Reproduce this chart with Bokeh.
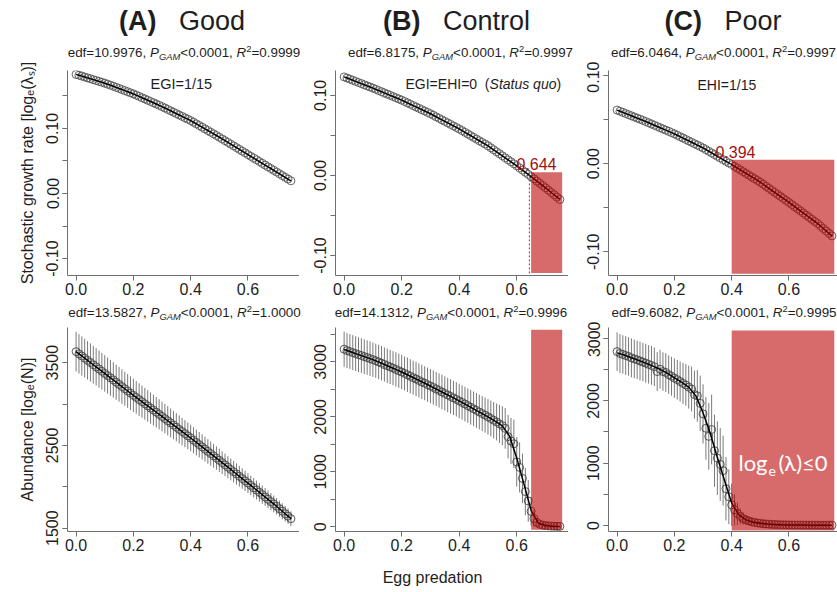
import numpy as np
from bokeh.plotting import figure
from bokeh.models import Label, FixedTicker, PrintfTickFormatter, Range1d
from bokeh.layouts import row, column
from bokeh.embed import file_html
from bokeh.resources import INLINE

# ---------------- data ----------------
egg = np.round(np.arange(0, 0.7551, 0.01), 2)        # 0.00 .. 0.75
egg_fit = np.round(np.arange(0, 0.7501, 0.025), 3)   # 0.000 .. 0.750

good_lambda = [0.1830, 0.1817, 0.1804, 0.1790, 0.1777, 0.1763, 0.1750, 0.1736, 0.1723, 0.1709,
               0.1695, 0.1680, 0.1664, 0.1648, 0.1631, 0.1614, 0.1598, 0.1581, 0.1564, 0.1547,
               0.1530, 0.1511, 0.1492, 0.1472, 0.1453, 0.1433, 0.1414, 0.1394, 0.1375, 0.1355,
               0.1335, 0.1314, 0.1292, 0.1271, 0.1249, 0.1228, 0.1206, 0.1185, 0.1163, 0.1142,
               0.1120, 0.1095, 0.1070, 0.1044, 0.1019, 0.0993, 0.0968, 0.0942, 0.0917, 0.0891,
               0.0865, 0.0838, 0.0812, 0.0785, 0.0758, 0.0732, 0.0705, 0.0678, 0.0651, 0.0625,
               0.0598, 0.0571, 0.0544, 0.0518, 0.0491, 0.0464, 0.0437, 0.0410, 0.0384, 0.0357,
               0.0330, 0.0303, 0.0276, 0.0249, 0.0222, 0.0195]

control_lambda = [0.1230, 0.1216, 0.1202, 0.1188, 0.1174, 0.1160, 0.1146, 0.1132, 0.1118, 0.1104,
                  0.1090, 0.1075, 0.1060, 0.1045, 0.1030, 0.1015, 0.1000, 0.0985, 0.0970, 0.0955,
                  0.0940, 0.0923, 0.0906, 0.0889, 0.0872, 0.0855, 0.0838, 0.0821, 0.0804, 0.0787,
                  0.0770, 0.0751, 0.0732, 0.0713, 0.0694, 0.0675, 0.0656, 0.0637, 0.0618, 0.0599,
                  0.0580, 0.0559, 0.0538, 0.0517, 0.0496, 0.0475, 0.0454, 0.0433, 0.0412, 0.0391,
                  0.0370, 0.0345, 0.0320, 0.0295, 0.0270, 0.0245, 0.0220, 0.0195, 0.0170, 0.0145,
                  0.0120, 0.0093, 0.0066, 0.0039, 0.0012, -0.0015, -0.0043, -0.0071, -0.0099, -0.0127,
                  -0.0155, -0.0184, -0.0213, -0.0242, -0.0271, -0.0300]

poor_lambda = [0.0610, 0.0597, 0.0584, 0.0571, 0.0558, 0.0545, 0.0532, 0.0519, 0.0506, 0.0493,
               0.0480, 0.0466, 0.0452, 0.0438, 0.0424, 0.0410, 0.0396, 0.0382, 0.0368, 0.0354,
               0.0340, 0.0324, 0.0308, 0.0292, 0.0276, 0.0260, 0.0244, 0.0228, 0.0212, 0.0196,
               0.0180, 0.0161, 0.0142, 0.0123, 0.0104, 0.0085, 0.0066, 0.0047, 0.0028, 0.0009,
               -0.0010, -0.0030, -0.0050, -0.0070, -0.0090, -0.0110, -0.0130, -0.0150, -0.0170, -0.0190,
               -0.0210, -0.0233, -0.0256, -0.0279, -0.0302, -0.0325, -0.0348, -0.0371, -0.0394, -0.0417,
               -0.0440, -0.0464, -0.0488, -0.0512, -0.0536, -0.0560, -0.0584, -0.0608, -0.0632, -0.0656,
               -0.0680, -0.0708, -0.0736, -0.0764, -0.0792, -0.0820]

good_N = [3633, 3607, 3581, 3554, 3528, 3502, 3475, 3449, 3423, 3396,
          3370, 3344, 3317, 3291, 3264, 3238, 3211, 3185, 3158, 3132,
          3105, 3080, 3054, 3029, 3003, 2978, 2952, 2927, 2901, 2876,
          2850, 2824, 2798, 2772, 2746, 2720, 2694, 2668, 2642, 2616,
          2590, 2563, 2536, 2509, 2482, 2455, 2428, 2401, 2374, 2347,
          2320, 2292, 2265, 2237, 2210, 2182, 2155, 2127, 2100, 2072,
          2045, 2017, 1989, 1961, 1933, 1905, 1877, 1849, 1821, 1793,
          1765, 1735, 1705, 1675, 1645, 1615]
good_N_sd = [240, 238, 237, 234, 232, 231, 228, 226, 225, 222,
             220, 219, 216, 214, 212, 210, 209, 206, 204, 203,
             200, 198, 197, 194, 192, 190, 189, 186, 184, 182,
             180, 178, 177, 174, 172, 170, 169, 166, 164, 162,
             160, 158, 156, 154, 152, 150, 148, 146, 144, 142,
             140, 138, 136, 134, 132, 130, 128, 126, 124, 122,
             120, 118, 116, 114, 112, 110, 108, 106, 104, 102,
             100, 98, 96, 94, 92, 90]

control_N = [3230, 3205, 3188, 3168, 3150, 3131, 3115, 3095, 3078, 3058,
             3040, 3020, 2998, 2976, 2953, 2930, 2908, 2885, 2862, 2838,
             2815, 2790, 2764, 2738, 2712, 2688, 2662, 2636, 2611, 2585,
             2560, 2534, 2507, 2480, 2452, 2425, 2398, 2371, 2344, 2317,
             2290, 2262, 2233, 2204, 2175, 2146, 2117, 2088, 2059, 2030,
             2000, 1970, 1938, 1906, 1872, 1840, 1790, 1640, 1560, 1510,
             1180, 1080, 880, 640, 470, 280, 150, 80, 45, 30,
             21, 16, 12, 10, 8, 7]
control_N_sd = [320, 318, 316, 318, 315, 317, 314, 316, 313, 315,
                314, 312, 315, 313, 311, 314, 312, 310, 313, 311,
                312, 310, 313, 311, 309, 312, 310, 312, 309, 311,
                310, 312, 309, 311, 313, 310, 312, 314, 311, 313,
                314, 312, 315, 313, 316, 314, 317, 315, 318, 320,
                322, 325, 330, 336, 345, 355, 370, 395, 420, 440,
                450, 455, 450, 430, 380, 260, 150, 80, 50, 40,
                35, 30, 28, 25, 22, 20]
control_N_fit = [3225, 3178, 3131, 3086, 3040, 2987, 2930, 2873, 2815, 2751,
                 2688, 2624, 2560, 2493, 2425, 2358, 2290, 2219, 2146, 2073,
                 2000, 1922, 1835, 1650, 1250, 780, 300, 65, 22, 11, 7]

poor_N = [2790, 2760, 2745, 2728, 2712, 2690, 2672, 2658, 2640, 2622,
          2605, 2585, 2568, 2548, 2470, 2508, 2470, 2455, 2420, 2395,
          2365, 2340, 2310, 2280, 2255, 2220, 2190, 2100, 2080, 1960,
          1790, 1560, 1430, 1540, 1200, 1080, 980, 880, 590, 460,
          330, 250, 190, 145, 110, 90, 72, 58, 48, 40,
          34, 28, 24, 20, 17, 15, 13, 11, 10, 9,
          8, 7, 7, 6, 6, 6, 5, 5, 5, 5,
          4, 4, 4, 4, 4, 4]
poor_N_sd = [310, 312, 308, 311, 309, 312, 310, 308, 311, 309,
             310, 308, 311, 309, 312, 310, 308, 311, 309, 312,
             315, 318, 322, 328, 335, 345, 360, 385, 415, 445,
             475, 505, 535, 560, 580, 590, 585, 560, 510, 440,
             340, 250, 180, 130, 100, 80, 65, 55, 45, 40,
             35, 30, 27, 24, 21, 19, 17, 15, 14, 13,
             12, 11, 10, 10, 9, 9, 8, 8, 8, 7,
             7, 7, 6, 6, 6, 6]
poor_N_fit = [2770, 2735, 2692, 2650, 2605, 2558, 2505, 2445, 2370, 2300,
              2220, 2080, 1810, 1480, 1090, 720, 360, 170, 90, 52,
              34, 22, 15, 11, 8, 7, 6, 5, 5, 4, 4]

col_tags = ["(A)", "(B)", "(C)"]
col_names = ["Good", "Control", "Poor"]
edf_top = ["10.9976", "6.8175", "6.0464"]
r2_top = ["0.9999", "0.9997", "0.9997"]
edf_bot = ["13.5827", "14.1312", "9.6082"]
r2_bot = ["1.0000", "0.9996", "0.9995"]
thresholds = [None, 0.644, 0.394]
threshold_labels = [None, "0.644", "0.394"]
# shaded (log(lambda) <= 0) regions: [left, right, bottom, top]
shade_top = [None, [0.65, 0.758, -0.122, 0.004], [0.40, 0.758, -0.125, 0.0045]]
shade_bot = [None, [0.65, 0.758, -55, 3585], [0.40, 0.758, -80, 3130]]

# ---------------- geometry / style ----------------
FONT = "Liberation Sans"
AXC = "#6f6f6f"
TXC = "#1e1e1e"
DARKRED = "#a01010"
NB = "\u00a0"
PAGE_W = 837

col_left = [67, 335, 608]         # page x of each frame
col_w = [232, 233, 229]
col_bl = [67, 36, 40]
col_xr = [(-0.03, 0.78), (-0.03, 0.78), (-0.03, 0.7693)]
row_top = [70, 327]
row_h = [205, 204]
row_bt = [9, 6]
row_bb = [28, 26]
HEAD1 = (0, 61)      # page y span of the header strip above the top row
HEAD2 = (303, 321)   # page y span of the strip above the bottom row
FOOT = (557, 592)
title_cx = [181.5, 456, 722.5]
edf_top_cx = [183.5, 460, 723]
edf_bot_cx = [184, 450.5, 723.5]
y_ranges = [[(-0.126, 0.189), (-0.125, 0.131), (-0.127, 0.106)],
            [(1460, 3925), (-86, 3625), (-97, 3177)]]

REG = {'(': 333, ')': 333, '/': 278, 'E': 667, 'H': 722, 'I': 278, 'S': 667, 't': 278,
       'a': 556, 'u': 556, 's': 500, 'q': 556, 'o': 556, 'G': 778, 'C': 722, 'n': 556,
       'r': 333, 'l': 222, 'P': 667, 'A': 667, 'M': 833, 'R': 722, 'd': 556, 'e': 556,
       'f': 278, ' ': 278, NB: 278, '.': 278, ',': 278, '=': 584, '<': 584, 'B': 667}
BOLD = {'(': 333, ')': 333, 'A': 722, 'B': 722, 'C': 722, ' ': 278}


def text_w(s, size, bold=False):
    tab = BOLD if bold else REG
    return sum(tab.get(ch, 556) for ch in s) * size / 1000.0


class Panel:
    def __init__(self, r, c):
        self.left = col_left[c]
        self.top = row_top[r]
        self.w = col_w[c]
        self.h = row_h[r]
        self.xr = col_xr[c]
        self.yr = y_ranges[r][c]

    def x(self, px):
        return self.xr[0] + (px - self.left) / self.w * (self.xr[1] - self.xr[0])

    def y(self, py):
        return self.yr[1] - (py - self.top) / self.h * (self.yr[1] - self.yr[0])


class PixelPanel:
    """strip figure whose data coordinates are page pixels"""
    def x(self, px):
        return px

    def y(self, py):
        return py


PIX = PixelPanel()


def add_text(p, pn, px, py, text, size, style="normal", color=TXC, font=FONT, align="left"):
    # py is the wanted baseline; the label is anchored at the middle of its text box
    mid = py - 0.3465 * size
    p.add_layout(Label(x=pn.x(px), y=pn.y(mid), x_units="data", y_units="data", text=text,
                       text_font=font, text_font_size=f"{size}px", text_font_style=style,
                       text_color=color, text_align=align, text_baseline="middle"))


def add_runs(p, pn, runs, px, py, centered=True):
    total = sum(text_w(t, s, st == "bold") for t, s, st, dy in runs)
    x = px - total / 2 if centered else px
    for t, s, st, dy in runs:
        if t.strip(NB + " "):
            add_text(p, pn, x, py + dy, t, s, st)
        x += text_w(t, s, st == "bold")


def edf_runs(edf, r2, S=13.4):
    return [("edf=" + edf + "," + NB, S, "normal", 0), ("P", S, "italic", 0),
            ("GAM", S * 0.7, "italic", 2.5), ("<0.0001," + NB, S, "normal", 0),
            ("R", S, "italic", 0), ("2", S * 0.7, "normal", -5), ("=" + r2, S, "normal", 0)]


def strip_fig(x0, x1, y0, y1):
    p = figure(frame_width=x1 - x0, frame_height=y1 - y0, min_border_left=0, min_border_right=0,
               min_border_top=0, min_border_bottom=0, x_range=Range1d(x0, x1), y_range=Range1d(y1, y0),
               x_axis_type=None, y_axis_type=None, output_backend="svg", toolbar_location=None,
               tools="", title=None)
    p.grid.visible = False
    p.outline_line_color = None
    p.background_fill_color = "white"
    p.border_fill_color = "white"
    return p


def make_fig(r, c):
    p = figure(frame_width=col_w[c], frame_height=row_h[r],
               min_border_left=col_bl[c], min_border_right=0,
               min_border_top=row_bt[r], min_border_bottom=row_bb[r],
               x_range=Range1d(*col_xr[c]), y_range=Range1d(*y_ranges[r][c]),
               output_backend="svg", toolbar_location=None, tools="", title=None)
    p.grid.visible = False
    p.outline_line_color = None
    p.background_fill_color = "white"
    p.border_fill_color = "white"
    p.xaxis.ticker = FixedTicker(ticks=[0, 0.2, 0.4, 0.6])
    p.xaxis.formatter = PrintfTickFormatter(format="%.1f")
    if r == 0:
        p.yaxis.ticker = FixedTicker(ticks=[-0.1, 0.0, 0.1],
                                     minor_ticks=[-0.1, -0.05, 0.0, 0.05, 0.1, 0.15])
        p.yaxis.formatter = PrintfTickFormatter(format="%.2f")
    elif c == 0:
        p.yaxis.ticker = FixedTicker(ticks=[1500, 2500, 3500],
                                     minor_ticks=[1500, 2000, 2500, 3000, 3500])
        p.yaxis.formatter = PrintfTickFormatter(format="%d")
    else:
        p.yaxis.ticker = FixedTicker(ticks=[0, 1000, 2000, 3000],
                                     minor_ticks=[0, 500, 1000, 1500, 2000, 2500, 3000, 3500])
        p.yaxis.formatter = PrintfTickFormatter(format="%d")
    for ax in (p.xaxis[0], p.yaxis[0]):
        ax.axis_line_color = AXC
        ax.major_tick_line_color = AXC
        ax.minor_tick_line_color = AXC
        ax.major_tick_out = 5
        ax.major_tick_in = 0
        ax.minor_tick_out = 5
        ax.minor_tick_in = 0
        ax.major_label_text_font = FONT
        ax.major_label_text_font_size = "16px"
        ax.major_label_text_color = TXC
    p.xaxis.minor_tick_line_color = None
    p.xaxis.major_label_standoff = 2
    p.yaxis.major_label_standoff = 4
    p.yaxis.major_label_orientation = "vertical"
    return p


lam = [good_lambda, control_lambda, poor_lambda]
Nm = [good_N, control_N, poor_N]
Nsd = [good_N_sd, control_N_sd, poor_N_sd]
Nfit = [None, control_N_fit, poor_N_fit]

head1 = strip_fig(0, PAGE_W, *HEAD1)
head2 = strip_fig(0, PAGE_W, *HEAD2)
top_figs, bot_figs = [], []
T = 27
for c in range(3):
    # ---------- header strips (titles + edf lines) ----------
    add_runs(head1, PIX, [(col_tags[c], T, "bold", 0), (NB * 3, T, "normal", 0), (col_names[c], T, "normal", 0)],
             title_cx[c], 30)
    add_runs(head1, PIX, edf_runs(edf_top[c], r2_top[c]), edf_top_cx[c], 57)
    add_runs(head2, PIX, edf_runs(edf_bot[c], r2_bot[c]), edf_bot_cx[c], 317)

    # ---------- top row ----------
    p = make_fig(0, c)
    pn = Panel(0, c)
    p.scatter(egg, lam[c], marker="circle", size=8, fill_color=None, line_color="#555555", line_width=0.9)
    p.line(egg, lam[c], line_color="black", line_width=1.5)
    if shade_top[c] is not None:
        l, rr, b, t = shade_top[c]
        p.quad(left=[l], right=[rr], bottom=[b], top=[t], fill_color="#ba0000", fill_alpha=0.58, line_color=None)
        dash_col = "#cc2020" if c == 1 else "white"
        p.segment(x0=[thresholds[c]], y0=[0.0], x1=[thresholds[c]], y1=[pn.yr[0]],
                  line_color=dash_col, line_dash="2 2", line_width=1)
    if c == 0:
        add_text(p, pn, 150, 89, "EGI=1/15", 14.5)
        p.yaxis.axis_label = "Stochastic growth rate [logₑ(λₛ)]"
    elif c == 1:
        add_runs(p, pn, [("EGI=EHI=0" + NB + NB + "(", 14, "normal", 0), ("Status" + NB + "quo", 14, "italic", 0),
                         (")", 14, "normal", 0)], 405, 88, centered=False)
        add_text(p, pn, 536, 169, threshold_labels[c], 16, color=DARKRED, align="center")
    else:
        add_text(p, pn, 697, 89, "EHI=1/15", 14)
        add_text(p, pn, 735, 157, threshold_labels[c], 16, color=DARKRED, align="center")
    top_figs.append(p)

    # ---------- bottom row ----------
    q = make_fig(1, c)
    qn = Panel(1, c)
    ym = np.array(Nm[c], dtype=float)
    sd = np.array(Nsd[c], dtype=float)
    q.segment(x0=egg, y0=ym - sd, x1=egg, y1=ym + sd, line_color="#7a7a7a", line_width=1)
    q.scatter(egg, ym, marker="circle", size=8, fill_color=None, line_color="#444444", line_width=0.9)
    if Nfit[c] is None:
        q.line(egg, ym, line_color="black", line_width=1.5)
    else:
        q.line(egg_fit, Nfit[c], line_color="black", line_width=1.5)
    if shade_bot[c] is not None:
        l, rr, b, t = shade_bot[c]
        q.quad(left=[l], right=[rr], bottom=[b], top=[t], fill_color="#ba0000", fill_alpha=0.58, line_color=None)
    if c == 0:
        q.yaxis.axis_label = "Abundance [logₑ(N)]"
    elif c == 2:
        add_text(q, qn, 738, 470, "log", 22, color="white", font="Lato")
        add_text(q, qn, 768, 475, "e", 14, color="white", font="Lato")
        add_text(q, qn, 778, 470, "(λ)≤0", 22, color="white", font="Lato")
    bot_figs.append(q)

for p in (top_figs[0], bot_figs[0]):
    p.yaxis.axis_label_text_font = FONT
    p.yaxis.axis_label_text_font_size = "16px"
    p.yaxis.axis_label_text_font_style = "normal"
    p.yaxis.axis_label_text_color = TXC
    p.yaxis.axis_label_standoff = 8

foot = strip_fig(0, PAGE_W, *FOOT)
add_text(foot, PIX, 432, 583, "Egg predation", 16, align="center")

layout = column(head1, row(*top_figs), head2, row(*bot_figs), foot)
open("out.html", "w").write(file_html(layout, INLINE, "Egg predation"))
